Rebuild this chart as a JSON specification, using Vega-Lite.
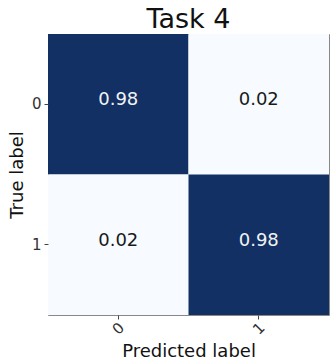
{
  "$schema": "https://vega.github.io/schema/vega-lite/v6.json",
  "width": 281,
  "height": 281,
  "autosize": {"type": "none"},
  "padding": {"left": 48, "top": 34, "right": 1, "bottom": 47},
  "background": "white",
  "title": {
    "text": "Task 4",
    "font": "DejaVu Sans",
    "fontSize": 27,
    "fontWeight": "normal",
    "color": "#111",
    "anchor": "middle",
    "baseline": "bottom",
    "offset": 0,
    "dy": 27
  },
  "config": {
    "view": {"stroke": "#888", "strokeWidth": 1},
    "font": "DejaVu Sans"
  },
  "data": {
    "values": [
      {"true": "0", "pred": "0", "value": 0.98},
      {"true": "0", "pred": "1", "value": 0.02},
      {"true": "1", "pred": "0", "value": 0.02},
      {"true": "1", "pred": "1", "value": 0.98}
    ]
  },
  "encoding": {
    "x": {
      "field": "pred",
      "type": "ordinal",
      "scale": {"domain": ["0", "1"], "paddingInner": 0, "paddingOuter": 0},
      "axis": {
        "title": "Predicted label",
        "titleFont": "DejaVu Sans",
        "titleFontSize": 18,
        "titleFontWeight": "normal",
        "titleColor": "#111",
        "titlePadding": 5,
        "labelAngle": -45,
        "labelAlign": "center",
        "labelBaseline": "middle",
        "labelPadding": 9,
        "labelFontSize": 15,
        "labelColor": "#333",
        "tickSize": 4,
        "tickColor": "#444",
        "domain": false
      }
    },
    "y": {
      "field": "true",
      "type": "ordinal",
      "scale": {"domain": ["0", "1"], "paddingInner": 0, "paddingOuter": 0},
      "axis": {
        "title": "True label",
        "titleFont": "DejaVu Sans",
        "titleFontSize": 18,
        "titleFontWeight": "normal",
        "titleColor": "#111",
        "titlePadding": 5,
        "labelAngle": 0,
        "labelPadding": 3,
        "labelFontSize": 15,
        "labelColor": "#333",
        "tickSize": 4,
        "tickColor": "#444",
        "domain": false
      }
    }
  },
  "layer": [
    {
      "mark": {"type": "rect"},
      "encoding": {
        "color": {
          "field": "value",
          "type": "quantitative",
          "scale": {"domain": [0.02, 0.98], "range": ["#f7fbff", "#123064"]},
          "legend": null
        }
      }
    },
    {
      "mark": {"type": "text", "fontSize": 18, "font": "DejaVu Sans", "dy": -4},
      "encoding": {
        "text": {"field": "value", "type": "quantitative", "format": ".2f"},
        "color": {
          "condition": {"test": "datum.value > 0.5", "value": "#f2f2f2"},
          "value": "#1a1a1a"
        }
      }
    }
  ]
}
